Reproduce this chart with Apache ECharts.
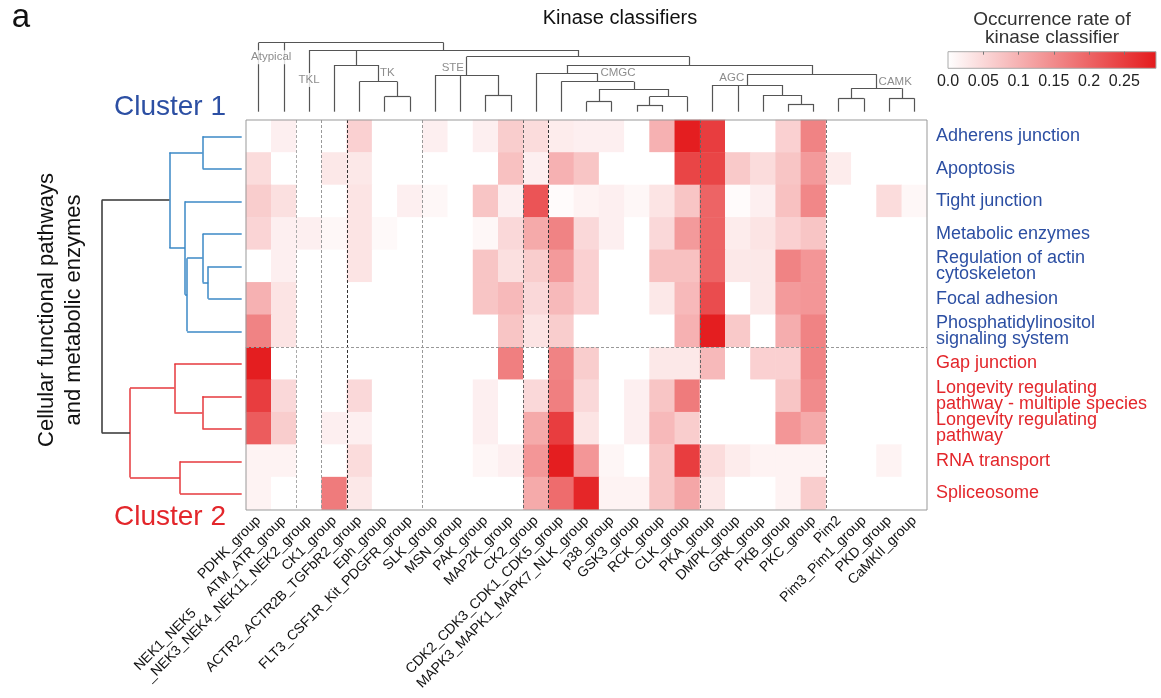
<!DOCTYPE html>
<html><head><meta charset="utf-8">
<script src="https://cdn.jsdelivr.net/npm/echarts@6/dist/echarts.min.js"></script>
<style>html,body{margin:0;padding:0;background:#fff}#c{width:1161px;height:698px}</style>
</head><body><div id="c"></div>
<script>
// ---------------- DATA ----------------
const kinases = ['PDHK_group','ATM_ATR_group','NEK1_NEK5\n_NEK3_NEK4_NEK11_NEK2_group','CK1_group',
  'ACTR2_ACTR2B_TGFbR2_group','Eph_group','FLT3_CSF1R_Kit_PDGFR_group','SLK_group','MSN_group',
  'PAK_group','MAP2K_group','CK2_group','CDK2_CDK3_CDK1_CDK5_group','MAPK3_MAPK1_MAPK7_NLK_group',
  'p38_group','GSK3_group','RCK_group','CLK_group','PKA_group','DMPK_group','GRK_group','PKB_group',
  'PKC_group','Pim2','Pim3_Pim1_group','PKD_group','CaMKII_group'];

const pathways = ['Adherens junction','Apoptosis','Tight junction','Metabolic enzymes',
  'Regulation of actin\ncytoskeleton','Focal adhesion','Phosphatidylinositol\nsignaling system',
  'Gap junction','Longevity regulating\npathway - multiple species','Longevity regulating\npathway',
  'RNA transport','Spliceosome'];

// occurrence rate per pathway (one value per kinase classifier, in kinase order)
const adherensJunction = [0,0.02,0,0,0.06,0,0,0.02,0,0.02,0.065,0.045,0.025,0.02,0.02,0,0.1,0.29,0.25,0,0,0.06,0.16,0,0,0,0];
const apoptosis        = [0.045,0,0,0.03,0.03,0,0,0,0,0,0.08,0.02,0.1,0.075,0,0,0,0.24,0.24,0.07,0.045,0.075,0.13,0.025,0,0,0];
const tightJunction    = [0.065,0.04,0,0,0.035,0,0.02,0.01,0,0.075,0.02,0.22,0.005,0.015,0.02,0.01,0.035,0.075,0.2,0.005,0.02,0.08,0.155,0,0,0.045,0.01];
const metabolicEnzymes = [0.055,0.02,0.02,0.01,0.035,0.008,0,0,0,0.01,0.05,0.11,0.16,0.05,0.02,0,0.05,0.13,0.2,0.025,0.035,0.06,0.075,0,0,0,0];
const actinRegulation  = [0,0.02,0,0,0.035,0,0,0,0,0.075,0.04,0.065,0.13,0.06,0,0,0.08,0.08,0.2,0.03,0.03,0.16,0.135,0,0,0,0];
const focalAdhesion    = [0.1,0.035,0,0,0,0,0,0,0,0.075,0.09,0.05,0.09,0.06,0,0,0.03,0.09,0.23,0,0.03,0.13,0.135,0,0,0,0];
const phosphatidylinositol = [0.16,0.035,0,0,0,0,0,0,0,0,0.075,0.035,0.065,0,0,0,0,0.1,0.29,0.07,0,0.105,0.16,0,0,0,0];
const gapJunction      = [0.29,0,0,0,0,0,0,0,0,0,0.165,0,0.16,0.065,0,0,0.03,0.03,0.09,0,0.06,0.06,0.16,0,0,0,0];
const longevityMulti   = [0.25,0.05,0,0,0.05,0,0,0,0,0.02,0,0.05,0.165,0.05,0,0.02,0.075,0.17,0,0,0,0.075,0.15,0,0,0,0];
const longevity        = [0.21,0.065,0,0.02,0.02,0,0,0,0,0.02,0,0.11,0.25,0.035,0,0.02,0.09,0.065,0,0,0,0.135,0.11,0,0,0,0];
const rnaTransport     = [0.015,0.015,0,0,0.045,0,0,0,0,0.012,0.02,0.135,0.29,0.135,0.012,0,0.075,0.25,0.045,0.025,0.015,0.015,0.015,0,0,0.015,0];
const spliceosome      = [0.015,0,0,0.17,0.03,0,0,0,0,0,0,0.11,0.19,0.28,0.015,0.015,0.075,0.115,0.03,0,0,0.015,0.065,0,0,0,0];
const occurrence = [adherensJunction, apoptosis, tightJunction, metabolicEnzymes, actinRegulation,
  focalAdhesion, phosphatidylinositol, gapJunction, longevityMulti, longevity, rnaTransport, spliceosome];

// group / cluster sizes
const kinaseGroupSizes = [2,1,1,3,4,1,6,5,4];
const rowClusterSizes = [7,5];

// kinase dendrogram: [node, children (leaf index or node), merge height (0..1)]
const colTree = [
  ['V',[5,6],0.22], ['U',[4,'V'],0.435], ['T',[3,'U'],0.677],
  ['F',[9,10],0.242], ['D',[7,8,'F'],0.532],
  ['M',[15,16],0.097], ['L',['M',17],0.217], ['K',[13,14],0.145], ['J',['K','L'],0.329],
  ['I',[12,'J'],0.435], ['G',[11,'I'],0.557],
  ['P',[21,22],0.112], ['O',[20,'P'],0.242], ['N',[18,19,'O'],0.387],
  ['R',[23,24],0.194], ['S',[25,26],0.194], ['Q',['R','S'],0.339],
  ['H',['N','Q'],0.542], ['E',['G','H'],0.677], ['C',['D','E'],0.797],
  ['B',[2,'T','C'],0.894], ['root',[0,1,'B'],1.0]
];
// pathway dendrogram
const rowTree = [
  ['a',[0,1],0.279], ['b',[4,5],0.239], ['c',[3,'b'],0.279], ['z',['c',6],0.39],
  ['d',[2,'z'],0.405], ['e',['a','d'],0.517],
  ['f',[8,9],0.281], ['g',[7,'f'],0.481], ['h',[10,11],0.441], ['i',['g','h'],0.798],
  ['root',['e','i'],1.0]
];
// kinase class labels: name, [x (kinase index), height]
const kinaseClasses = ['Atypical','TKL','TK','STE','CMGC','AGC','CAMK'];
const kinaseClassAt = [[0.5,0.79],[2,0.46],[5.1,0.56],[7.7,0.63],[14.25,0.56],[18.76,0.49],[25.24,0.43]];

const legendTicks = [0,0.05,0.1,0.15,0.2,0.25];
const legendTickLabels = ['0.0','0.05','0.1','0.15','0.2','0.25'];
const scaleMax = 0.295;

// ---------------- STYLE ----------------
const FONT = "'Liberation Sans', Arial, Helvetica, sans-serif";
const BLUE_TXT = '#2c4fa3', RED_TXT = '#e3262b';
const BLUE_LN = '#3b88c6', RED_LN = '#e6393c', BLACK_LN = '#333';
const sepColors = ['#aaa','#999','#333','#999','#666','#333','#666','#777'];
const HEAT = ['#ffffff', '#e41a1c'];

// ---------------- BUILD ----------------
const nCol = kinases.length, nRow = pathways.length;
const heatData = [];
occurrence.forEach((row, r) => row.forEach((v, c) => heatData.push([c, r, v])));

function subtree(tree, rootId) {
  const map = {}; tree.forEach(([id, kids]) => map[id] = kids);
  const out = new Set();
  (function walk(k){ if (typeof k === 'number') return; out.add(k); map[k].forEach(walk); })(rootId);
  return out;
}
function dendroSegments(tree, orient, colorOf) {
  const pos = {}, hgt = {};
  const P = k => typeof k === 'number' ? k : pos[k];
  const H = k => typeof k === 'number' ? 0 : hgt[k];
  const pt = (p, h) => orient === 'top' ? [p, h] : [h, p];
  const segs = [];
  tree.forEach(([id, kids, h]) => {
    const xs = kids.map(P);
    const lo = Math.min(...xs), hi = Math.max(...xs);
    pos[id] = (lo + hi) / 2; hgt[id] = h;
    const col = colorOf(id);
    segs.push({coords: [pt(lo, h), pt(hi, h)], lineStyle: {color: col}});
    kids.forEach(k => segs.push({coords: [pt(P(k), H(k)), pt(P(k), h)], lineStyle: {color: col}}));
  });
  return segs;
}
const topSegs = dendroSegments(colTree, 'top', () => '#555');
const c1 = subtree(rowTree, 'e'), c2 = subtree(rowTree, 'i');
const leftSegs = dendroSegments(rowTree, 'left', id => c1.has(id) ? BLUE_LN : (c2.has(id) ? RED_LN : BLACK_LN));

const sepData = [];
let acc = 0;
kinaseGroupSizes.slice(0, -1).forEach((s, i) => {
  acc += s;
  sepData.push({coords: [[acc - 0.5, -0.5], [acc - 0.5, nRow - 0.5]], lineStyle: {color: sepColors[i]}});
});
acc = 0;
rowClusterSizes.slice(0, -1).forEach(s => {
  acc += s;
  sepData.push({coords: [[-0.5, acc - 0.5], [nCol - 0.5, acc - 0.5]], lineStyle: {color: '#999'}});
});
const firstCluster = rowClusterSizes[0];

const classData = kinaseClasses.map((n, i) => ({
  name: n, value: kinaseClassAt[i],
  label: (n === 'Atypical' || n === 'TKL') ? {backgroundColor: '#fff', padding: [1, 0]} : {}
}));

// multi-line tick label: lines left-aligned, the last text line ending at the tick
function kinaseLabel(v) {
  if (v.indexOf('\n') < 0) return v;
  const lines = v.split('\n').map(s => '{l|' + s + '}');
  lines.push('{l| }');
  return lines.join('\n');
}

const HM = {left: 246, top: 120, width: 681, height: 390};

const option = {
  animation: false,
  textStyle: {fontFamily: FONT},
  grid: [
    {left: HM.left, top: HM.top, width: HM.width, height: HM.height},
    {left: HM.left, top: HM.top, width: HM.width, height: HM.height, show: true, z: 10,
     borderColor: '#999', borderWidth: 1, backgroundColor: 'transparent'},
    {left: HM.left, top: 42.7, width: HM.width, height: 69},
    {left: 101.7, top: HM.top, width: 140, height: HM.height},
    {left: 948, top: 51.7, width: 208, height: 16.6}
  ],
  xAxis: [
    {type: 'category', gridIndex: 0, data: kinases, position: 'bottom',
     axisLine: {show: false}, axisTick: {show: false}, splitLine: {show: false},
     axisLabel: {rotate: 45, interval: 0, fontSize: 14, color: '#111', margin: 9, fontFamily: FONT,
       formatter: kinaseLabel,
       rich: {l: {align: 'left', fontSize: 14, color: '#111', lineHeight: 16, fontFamily: FONT}}}},
    {type: 'value', gridIndex: 1, min: -0.5, max: nCol - 0.5, show: false},
    {type: 'value', gridIndex: 2, min: -0.5, max: nCol - 0.5, show: false},
    {type: 'value', gridIndex: 3, min: 0, max: 1, inverse: true, show: false},
    {type: 'value', gridIndex: 4, min: 0, max: scaleMax, position: 'bottom',
     axisLine: {show: false}, axisTick: {show: false}, splitLine: {show: false},
     axisLabel: {customValues: legendTicks, fontSize: 16, color: '#222', margin: 5, fontFamily: FONT,
       formatter: v => legendTickLabels[legendTicks.findIndex(t => Math.abs(t - v) < 1e-9)] || ''}},
    {type: 'value', gridIndex: 4, min: 0, max: scaleMax, position: 'top', z: 10,
     axisLine: {show: false}, axisLabel: {show: false}, splitLine: {show: false},
     axisTick: {show: true, inside: true, length: 3, lineStyle: {color: '#777'},
       customValues: legendTicks.slice(1)}}
  ],
  yAxis: [
    {type: 'category', gridIndex: 0, data: pathways, inverse: true, position: 'right',
     axisLine: {show: false}, axisTick: {show: false}, splitLine: {show: false},
     axisLabel: {fontSize: 18, lineHeight: 16, margin: 9, align: 'left', fontFamily: FONT,
       color: (v, i) => i < firstCluster ? BLUE_TXT : RED_TXT}},
    {type: 'value', gridIndex: 1, min: -0.5, max: nRow - 0.5, inverse: true, show: false},
    {type: 'value', gridIndex: 2, min: 0, max: 1, show: false},
    {type: 'value', gridIndex: 3, min: -0.5, max: nRow - 0.5, inverse: true, show: false},
    {type: 'value', gridIndex: 4, min: 0, max: 1, show: false}
  ],
  visualMap: {show: false, seriesIndex: 0, min: 0, max: scaleMax, inRange: {color: HEAT}},
  series: [
    {type: 'heatmap', xAxisIndex: 0, yAxisIndex: 0, data: heatData,
     itemStyle: {borderWidth: 0}, emphasis: {disabled: true}, progressive: 0},
    {type: 'lines', coordinateSystem: 'cartesian2d', xAxisIndex: 1, yAxisIndex: 1, z: 6, clip: false,
     data: sepData, lineStyle: {width: 1, type: [3, 2], opacity: 1}, silent: true},
    {type: 'lines', coordinateSystem: 'cartesian2d', xAxisIndex: 2, yAxisIndex: 2, clip: false,
     data: topSegs, lineStyle: {width: 1.2, opacity: 1}, silent: true},
    {type: 'scatter', xAxisIndex: 2, yAxisIndex: 2, symbolSize: 1, itemStyle: {color: 'rgba(0,0,0,0)'},
     data: classData, z: 8, silent: true,
     label: {show: true, position: 'inside', formatter: '{b}', fontSize: 11.5, color: '#707070', fontFamily: FONT}},
    {type: 'lines', coordinateSystem: 'cartesian2d', xAxisIndex: 3, yAxisIndex: 3, clip: false,
     data: leftSegs, lineStyle: {width: 1.5, opacity: 1}, silent: true},
    {type: 'custom', xAxisIndex: 4, yAxisIndex: 4, clip: false, silent: true,
     data: [[0, scaleMax]], encode: {x: [0, 1]},
     renderItem: (params, api) => {
       const p0 = api.coord([api.value(0), 1]);
       const p1 = api.coord([api.value(1), 0]);
       return {type: 'rect', shape: {x: p0[0], y: p0[1], width: p1[0] - p0[0], height: p1[1] - p0[1]},
         style: {fill: new echarts.graphic.LinearGradient(0, 0, 1, 0,
           [{offset: 0, color: HEAT[0]}, {offset: 1, color: HEAT[1]}]), stroke: '#aaa', lineWidth: 1}};
     }}
  ],
  graphic: [
    {type: 'text', x: 21, y: 18, z: 20, style: {text: 'a', fontSize: 33, fill: '#111', align: 'center', verticalAlign: 'middle', fontFamily: FONT}},
    {type: 'text', x: 620, y: 18, z: 20, style: {text: 'Kinase classifiers', fontSize: 20, fill: '#111', align: 'center', verticalAlign: 'middle', fontFamily: FONT}},
    {type: 'text', x: 1052, y: 29, z: 20, style: {text: 'Occurrence rate of\nkinase classifier', fontSize: 19, lineHeight: 18.5, fill: '#333', align: 'center', verticalAlign: 'middle', fontFamily: FONT}},
    {type: 'text', x: 170, y: 107, z: 20, style: {text: 'Cluster 1', fontSize: 28, fill: BLUE_TXT, align: 'center', verticalAlign: 'middle', fontFamily: FONT}},
    {type: 'text', x: 170, y: 517, z: 20, style: {text: 'Cluster 2', fontSize: 28, fill: RED_TXT, align: 'center', verticalAlign: 'middle', fontFamily: FONT}},
    {type: 'text', x: 60, y: 310, z: 20, rotation: Math.PI / 2, style: {text: 'Cellular functional pathways\nand metabolic enzymes', fontSize: 22, lineHeight: 27, fill: '#111', align: 'center', verticalAlign: 'middle', fontFamily: FONT}}
  ]
};
const chart = echarts.init(document.getElementById('c'));
chart.setOption(option);
</script>
</body></html>
